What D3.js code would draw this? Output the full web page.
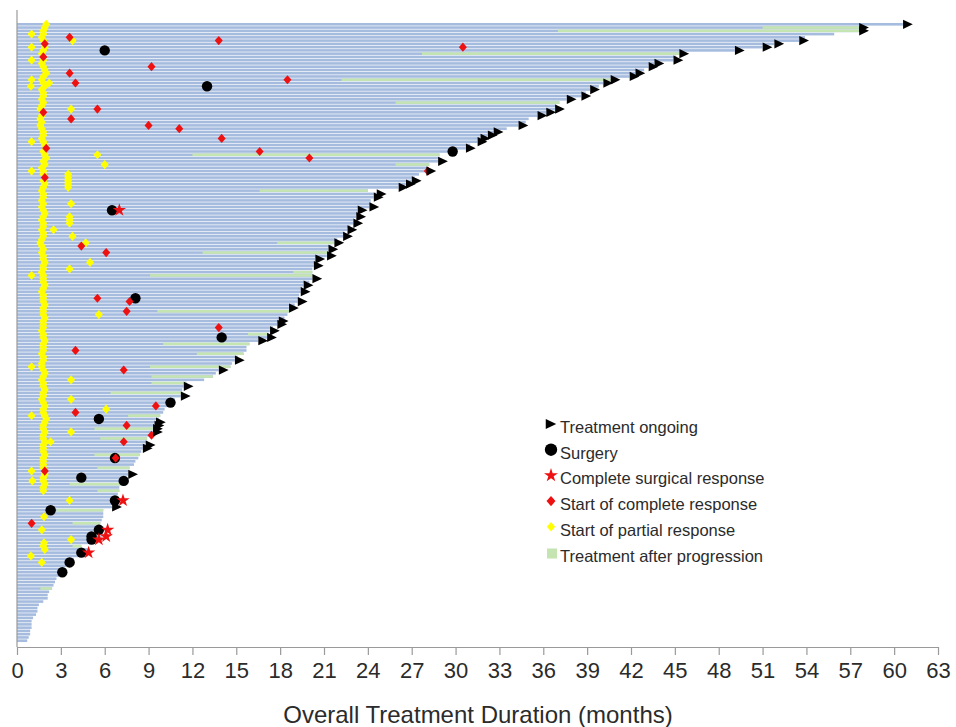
<!DOCTYPE html>
<html>
<head>
<meta charset="utf-8">
<script src="https://cdn.jsdelivr.net/npm/d3@7"></script>
<style>
  body { margin: 0; background: #fff; }
  svg text { font-family: "Liberation Sans", Arial, sans-serif; }
</style>
</head>
<body>
<svg id="chart" width="956" height="727"></svg>
<script>
// Overall treatment duration per patient (months), longest first
const durations = [
  60.6, 57.6, 57.6, 55.9, 53.9, 53.5, 51.8, 51.0, 49.1, 45.3,
  45.1, 44.9, 43.6, 43.2, 42.9, 42.3, 41.9, 40.6, 40.1, 39.8,
  39.2, 38.9, 38.6, 37.6, 37.1, 36.9, 36.8, 36.2, 35.6, 35.0,
  34.8, 34.3, 33.5, 32.6, 32.2, 31.7, 31.5, 31.0, 30.7, 30.0,
  28.9, 28.9, 28.8, 28.2, 28.1, 28.0, 27.5, 27.2, 27.0, 26.6,
  26.1, 24.0, 24.6, 24.4, 24.2, 24.2, 24.1, 23.3, 23.3, 23.2,
  23.0, 23.0, 22.8, 22.6, 22.4, 22.3, 21.9, 21.7, 21.5, 21.3,
  21.3, 21.2, 20.4, 20.4, 20.3, 20.2, 20.2, 20.2, 20.2, 20.0,
  19.6, 19.5, 19.4, 19.3, 19.3, 19.2, 19.0, 18.6, 18.6, 18.5,
  18.3, 17.9, 17.8, 17.5, 17.3, 17.1, 17.1, 16.5, 15.9, 15.7,
  15.7, 15.5, 15.1, 14.9, 14.7, 14.6, 13.8, 13.6, 13.4, 12.8,
  11.6, 11.4, 11.3, 11.3, 11.2, 10.8, 10.6, 10.3, 10.1, 10.0,
  9.8, 9.7, 9.5, 9.4, 9.3, 9.3, 9.2, 8.9, 8.9, 8.8,
  8.6, 8.5, 8.4, 8.3, 8.1, 8.0, 7.7, 7.6, 7.6, 7.5,
  7.4, 7.1, 7.0, 7.0, 6.9, 6.8, 7.0, 6.7, 6.5, 5.9,
  5.9, 5.9, 5.8, 5.7, 5.8, 6.0, 5.9, 5.8, 5.7, 5.3,
  4.4, 4.9, 4.6, 4.2, 3.9, 3.7, 3.4, 3.2, 3.0, 2.9,
  2.7, 2.6, 2.5, 2.4, 2.2, 2.1, 2.1, 1.8, 1.5, 1.4,
  1.4, 1.3, 1.1, 1.0, 1.0, 1.0, 0.9, 0.9, 0.8, 0.7
];

// Patients whose treatment is still ongoing (row index)
const ongoing = [
  0, 1, 2, 5, 6, 7, 8, 9, 11, 12, 13, 15, 16, 17, 18, 20, 22, 23, 26, 27,
  28, 31, 33, 34, 35, 36, 38, 42, 45, 48, 49, 50, 52, 53, 56, 57, 59, 61,
  63, 65, 67, 69, 71, 72, 74, 78, 80, 82, 85, 87, 91, 92, 94, 96, 97, 103,
  106, 111, 114, 122, 123, 124, 125, 129, 130, 138, 148
];

// [row, month when treatment after progression began]
const progression = [
  [1, 51.0], [2, 37.0], [9, 27.7], [17, 22.2], [24, 25.9], [40, 12.0], [43, 25.9],
  [51, 16.6], [67, 17.8], [70, 12.7], [76, 18.9], [77, 9.1], [88, 9.6], [95, 15.8],
  [98, 10.0], [101, 12.3], [105, 9.1], [108, 9.2], [110, 9.2], [113, 6.4], [120, 7.6],
  [124, 5.3], [127, 5.7], [132, 5.3], [136, 5.5], [141, 3.6], [143, 5.5], [149, 2.7],
  [153, 3.8], [160, 3.8], [173, 1.6]
];

// [row, month]
const surgery = [
  [8, 6.0], [19, 13.0], [39, 29.8], [57, 6.5], [84, 8.1], [96, 14.0], [116, 10.5],
  [121, 5.6], [133, 6.7], [139, 4.4], [140, 7.3], [146, 6.7], [149, 2.3], [155, 5.6],
  [157, 5.1], [158, 5.1], [162, 4.4], [165, 3.6], [168, 3.1]
];

const surgicalCR = [
  [57, 7.0], [146, 7.25], [155, 6.2], [157, 6.1], [158, 5.6], [162, 4.9]
];

const completeResp = [
  [4, 3.6], [5, 13.8], [6, 1.9], [7, 30.5], [10, 1.8], [13, 9.2], [15, 3.6], [17, 18.5],
  [18, 4.0], [26, 5.5], [27, 1.8], [29, 3.7], [31, 9.0], [32, 11.1], [35, 14.0], [38, 2.0],
  [39, 16.6], [41, 20.0], [45, 28.1], [47, 1.9], [68, 4.4], [70, 6.1], [84, 5.5], [85, 7.7],
  [88, 7.5], [93, 13.8], [100, 4.0], [106, 7.3], [117, 9.5], [119, 4.0], [123, 7.5],
  [126, 9.2], [128, 7.3], [133, 6.75], [137, 1.9], [153, 1.0]
];

const partialResp = [
  [0, 2.0], [1, 1.9], [2, 1.8], [3, 1.8], [4, 1.7], [5, 1.8], [7, 1.9], [8, 1.8], [9, 1.7],
  [11, 1.8], [12, 1.7], [13, 1.8], [14, 1.9], [15, 2.0], [16, 1.8], [17, 1.7], [18, 1.8],
  [19, 1.9], [20, 1.7], [21, 1.8], [22, 1.8], [23, 1.7], [24, 1.8], [25, 1.7], [26, 1.6],
  [28, 1.7], [29, 1.6], [30, 1.7], [31, 1.6], [32, 1.7], [33, 1.8], [34, 1.8], [35, 1.7],
  [36, 1.8], [37, 1.9], [39, 1.8], [40, 1.9], [41, 2.0], [42, 1.8], [43, 1.9], [44, 1.7],
  [45, 1.8], [46, 1.8], [48, 1.8], [49, 1.9], [50, 1.8], [51, 1.7], [52, 1.8], [53, 1.8],
  [54, 1.7], [55, 1.8], [56, 1.7], [57, 1.8], [58, 1.9], [59, 1.8], [60, 1.7], [61, 1.8],
  [62, 1.8], [63, 1.7], [64, 1.8], [65, 1.8], [66, 1.7], [67, 1.6], [68, 1.7], [69, 1.8],
  [70, 1.7], [71, 1.8], [72, 1.8], [73, 1.9], [74, 1.8], [75, 1.8], [76, 1.7], [77, 1.8],
  [78, 1.8], [79, 1.8], [80, 1.9], [81, 1.8], [82, 1.7], [83, 1.8], [84, 1.8], [85, 1.8],
  [86, 1.9], [87, 1.8], [88, 1.8], [89, 1.8], [90, 1.9], [91, 1.8], [92, 1.8], [93, 1.8],
  [94, 1.7], [95, 1.8], [96, 1.8], [97, 1.9], [98, 1.8], [99, 1.8], [100, 1.8], [101, 1.7],
  [102, 1.8], [103, 1.8], [104, 1.7], [105, 1.7], [106, 1.8], [107, 1.9], [108, 1.8],
  [109, 1.7], [110, 1.8], [111, 1.8], [112, 1.9], [113, 1.8], [114, 1.8], [115, 1.7],
  [116, 1.8], [117, 1.9], [118, 1.8], [119, 1.8], [120, 1.9], [121, 2.0], [122, 1.9],
  [123, 1.8], [124, 1.8], [125, 1.9], [126, 1.8], [127, 1.8], [128, 1.9], [129, 1.8],
  [130, 1.8], [131, 1.8], [132, 1.9], [133, 1.8], [134, 1.8], [135, 1.8], [136, 1.8],
  [138, 1.9], [139, 1.8], [140, 1.8], [141, 1.9], [142, 1.8], [143, 1.8], [151, 1.85],
  [155, 1.7], [159, 1.85], [160, 1.8], [161, 1.9], [165, 1.7],
  // early responses near one month
  [3, 1.0], [7, 1.0], [11, 1.0], [17, 1.0], [19, 0.95], [36, 1.0], [45, 1.0], [77, 1.0],
  [105, 1.0], [120, 1.0], [137, 1.0], [140, 1.05], [163, 0.95],
  // responses around the third/fourth month
  [5, 3.8], [26, 3.7], [46, 3.5], [47, 3.5], [48, 3.5], [49, 3.5], [50, 3.5], [55, 3.7],
  [59, 3.6], [60, 3.6], [61, 3.6], [65, 3.8], [75, 3.6], [109, 3.7], [115, 3.7],
  [125, 3.7], [146, 3.6], [158, 3.7],
  // later partial responses
  [18, 2.2], [40, 5.5], [43, 6.0], [63, 2.5], [67, 4.7], [73, 5.0], [89, 5.6],
  [118, 6.1], [128, 2.3]
];

const monthTicks = [0, 3, 6, 9, 12, 15, 18, 21, 24, 27, 30, 33, 36, 39, 42, 45, 48, 51, 54, 57, 60, 63];
const xTitle = "Overall Treatment Duration (months)";
const legendLabels = [
  "Treatment ongoing", "Surgery", "Complete surgical response",
  "Start of complete response", "Start of partial response", "Treatment after progression"
];

const C = {
  bar: "#a6bcdf", prog: "#c4e4b2", black: "#000000",
  red: "#ee1111", yellow: "#ffff00", axis: "#9a9a9a", text: "#2b2b2b"
};

// Custom marker shapes for d3.symbol
const symTriangleRight = {
  draw(ctx, size) {
    const h = Math.sqrt(size) / 2;
    ctx.moveTo(-h, -h * 0.95);
    ctx.lineTo(h, 0);
    ctx.lineTo(-h, h * 0.95);
    ctx.closePath();
  }
};
const symDiamond = {
  draw(ctx, size) {
    const r = Math.sqrt(size) / 2;
    ctx.moveTo(0, -r * 1.15);
    ctx.lineTo(r, 0);
    ctx.lineTo(0, r * 1.15);
    ctx.lineTo(-r, 0);
    ctx.closePath();
  }
};

const svg = d3.select("#chart");
const x = d3.scaleLinear().domain([0, 63]).range([17, 938]);
const y = d3.scaleBand().domain(d3.range(durations.length)).range([23, 642]).paddingInner(0.2);
const yc = i => y(i) + y.bandwidth() / 2;

// Duration bars
svg.append("g").selectAll("rect").data(durations).join("rect")
  .attr("x", x(0)).attr("y", (d, i) => y(i))
  .attr("width", d => x(d) - x(0)).attr("height", y.bandwidth())
  .attr("fill", C.bar);

// Treatment after progression segments
svg.append("g").selectAll("rect").data(progression).join("rect")
  .attr("x", d => x(d[1])).attr("y", d => y(d[0]))
  .attr("width", d => x(durations[d[0]]) - x(d[1])).attr("height", y.bandwidth())
  .attr("fill", C.prog);

// Axes
svg.append("line").attr("x1", x(0)).attr("x2", x(0)).attr("y1", 10).attr("y2", 647)
  .attr("stroke", C.axis).attr("stroke-width", 1.2);

const xAxis = svg.append("g").attr("transform", "translate(0,647)")
  .call(d3.axisBottom(x).tickValues(monthTicks).tickSize(8).tickSizeOuter(0).tickPadding(7));
xAxis.select(".domain").attr("stroke", C.axis).attr("stroke-width", 1.2);
xAxis.selectAll(".tick line").attr("stroke", C.axis).attr("stroke-width", 1.2);
xAxis.selectAll(".tick text").attr("fill", C.text).attr("font-size", 22)
  .attr("font-family", "'Liberation Sans', Arial, sans-serif");

svg.append("text").attr("x", 478).attr("y", 723).attr("text-anchor", "middle")
  .attr("font-size", 24).attr("fill", C.text).text(xTitle);

// Event markers
const markers = svg.append("g");

markers.selectAll(".pr").data(partialResp).join("path").attr("class", "pr")
  .attr("d", d3.symbol().type(symDiamond).size(64)())
  .attr("transform", d => `translate(${x(d[1])},${yc(d[0])})`)
  .attr("fill", C.yellow);

markers.selectAll(".sx").data(surgery).join("path").attr("class", "sx")
  .attr("d", d3.symbol().type(d3.symbolCircle).size(85)())
  .attr("transform", d => `translate(${x(d[1])},${yc(d[0])})`)
  .attr("fill", C.black);

markers.selectAll(".cr").data(completeResp).join("path").attr("class", "cr")
  .attr("d", d3.symbol().type(symDiamond).size(64)())
  .attr("transform", d => `translate(${x(d[1])},${yc(d[0])})`)
  .attr("fill", C.red);

markers.selectAll(".scr").data(surgicalCR).join("path").attr("class", "scr")
  .attr("d", d3.symbol().type(d3.symbolStar).size(55)())
  .attr("transform", d => `translate(${x(d[1])},${yc(d[0])})`)
  .attr("fill", C.red);

markers.selectAll(".on").data(ongoing).join("path").attr("class", "on")
  .attr("d", d3.symbol().type(symTriangleRight).size(95)())
  .attr("transform", i => `translate(${x(durations[i]) + 5},${yc(i)})`)
  .attr("fill", C.black);

// Legend
const legend = svg.append("g").attr("transform", "translate(551,427)");
const rowGap = 25.7;
const legendShapes = [
  { type: symTriangleRight, size: 110, fill: C.black },
  { type: d3.symbolCircle, size: 120, fill: C.black },
  { type: d3.symbolStar, size: 60, fill: C.red },
  { type: symDiamond, size: 80, fill: C.red },
  { type: symDiamond, size: 70, fill: C.yellow },
  null
];
legendLabels.forEach((label, i) => {
  const g = legend.append("g").attr("transform", `translate(0,${i * rowGap})`);
  const s = legendShapes[i];
  if (s) {
    g.append("path").attr("d", d3.symbol().type(s.type).size(s.size)())
      .attr("transform", "translate(0,-3)").attr("fill", s.fill);
  } else {
    g.append("rect").attr("x", -4).attr("y", -7).attr("width", 10).attr("height", 10)
      .attr("fill", C.prog);
  }
  g.append("text").attr("x", 9).attr("y", 6).attr("font-size", 16.5)
    .attr("font-family", "'Open Sans', 'Liberation Sans', sans-serif")
    .attr("fill", C.text).text(label);
});
</script>
</body>
</html>
